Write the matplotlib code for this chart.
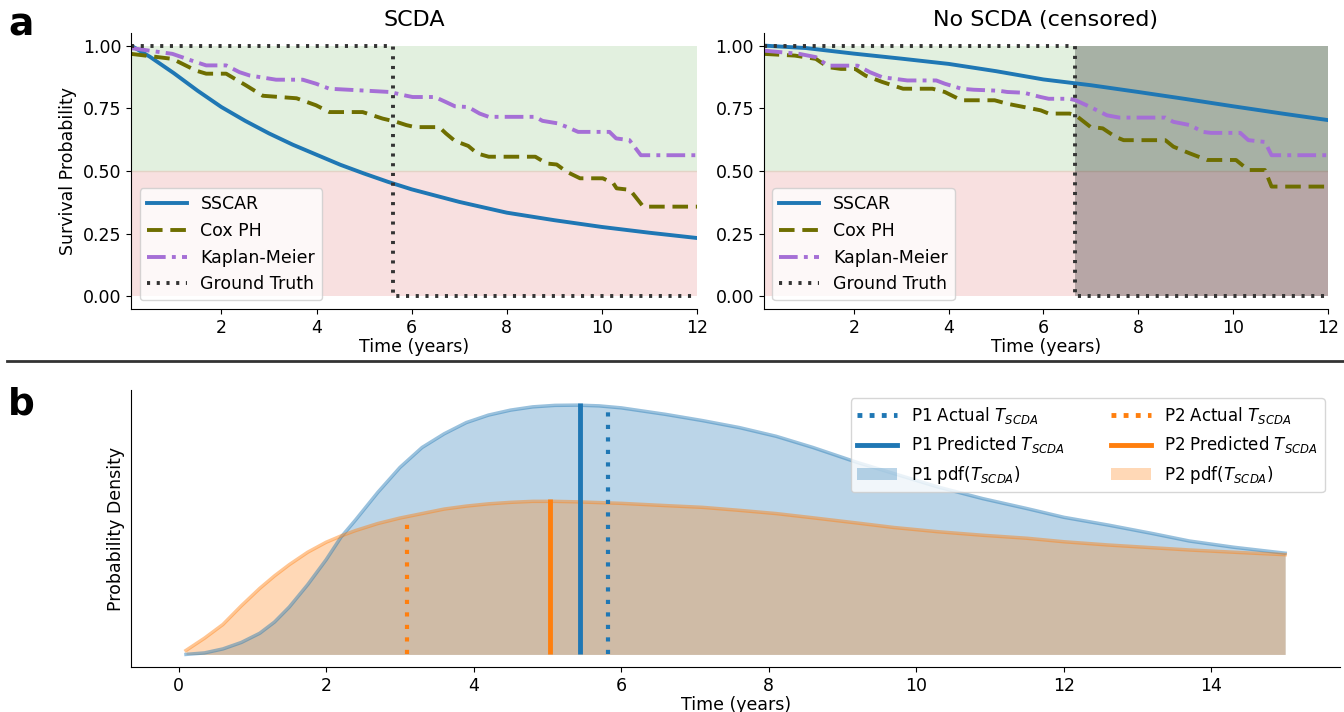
import numpy as np
import matplotlib
matplotlib.use('Agg')
import matplotlib.pyplot as plt
from matplotlib.lines import Line2D
from matplotlib.patches import Patch

# ---- panel a: survival curves ----
t_end = 12.0
t_start = 0.1
gt_event_scda = 5.6
gt_censor = 6.66

sscar_t_a = [0.1, 0.5, 1.0, 1.5, 2.0, 2.5, 3.0, 3.5, 4.0, 4.5, 5.0, 5.5, 6.0, 7.0, 8.0, 9.0, 10.0, 11.0, 12.0]
sscar_s_a = [1.0, 0.955, 0.89, 0.82, 0.755, 0.70, 0.65, 0.605, 0.565, 0.525, 0.49, 0.457, 0.427, 0.377, 0.334, 0.304, 0.277, 0.254, 0.233]

cox_t_a = [0.1, 0.97, 1.47, 1.68, 2.1, 2.52, 2.87, 3.58, 3.99, 4.27, 4.97, 5.39, 5.68, 5.89, 6.07, 6.58, 6.72, 6.91,
           7.19, 7.38, 7.62, 8.60, 8.84, 9.05, 9.26, 9.54, 10.02, 10.24, 10.31, 10.59, 10.87, 12.0]
cox_s_a = [0.967, 0.947, 0.90, 0.888, 0.888, 0.841, 0.80, 0.79, 0.762, 0.735, 0.735, 0.709, 0.696, 0.683, 0.675, 0.675,
           0.65, 0.62, 0.60, 0.57, 0.557, 0.557, 0.53, 0.526, 0.497, 0.471, 0.471, 0.451, 0.431, 0.425, 0.358, 0.358]

km_t_a = [0.1, 0.97, 1.47, 1.68, 2.1, 2.38, 2.59, 3.15, 3.71, 3.99, 4.27, 4.97, 5.54, 5.89, 6.02, 6.49, 6.72, 6.91,
          7.19, 7.43, 7.62, 8.60, 8.75, 9.07, 9.26, 9.50, 10.16, 10.30, 10.58, 10.82, 12.0]
km_s_a = [0.99, 0.967, 0.934, 0.921, 0.921, 0.894, 0.881, 0.864, 0.864, 0.848, 0.828, 0.821, 0.815, 0.80, 0.795, 0.795,
          0.775, 0.758, 0.755, 0.729, 0.716, 0.716, 0.70, 0.69, 0.676, 0.656, 0.656, 0.63, 0.623, 0.563, 0.563]

sscar_t_b = [0.1, 1.0, 2.0, 3.0, 4.0, 5.0, 6.0, 7.0, 8.0, 9.0, 10.0, 11.0, 12.0]
sscar_s_b = [1.0, 0.99, 0.968, 0.948, 0.927, 0.898, 0.865, 0.842, 0.815, 0.787, 0.758, 0.73, 0.703]

cox_t_b = [0.1, 0.76, 1.20, 1.46, 1.73, 2.03, 2.25, 2.60, 3.04, 3.66, 3.92, 4.27, 4.97, 5.24, 5.59, 5.94, 6.11, 6.55,
           6.68, 6.99, 7.25, 7.52, 7.69, 8.57, 8.74, 9.09, 9.45, 10.06, 10.32, 10.67, 10.81, 12.0]
cox_s_b = [0.967, 0.96, 0.947, 0.914, 0.907, 0.907, 0.88, 0.855, 0.828, 0.828, 0.815, 0.782, 0.782, 0.768, 0.755, 0.742,
           0.729, 0.729, 0.722, 0.676, 0.67, 0.636, 0.623, 0.623, 0.597, 0.57, 0.544, 0.544, 0.504, 0.504, 0.438, 0.438]

km_t_b = [0.1, 0.85, 1.20, 1.46, 2.08, 2.34, 2.60, 3.13, 3.74, 3.92, 4.27, 4.53, 5.06, 5.24, 5.59, 5.94, 6.11, 6.55,
          6.68, 6.99, 7.34, 7.60, 8.57, 8.74, 9.09, 9.36, 9.53, 10.15, 10.32, 10.67, 10.81, 12.0]
km_s_b = [0.98, 0.967, 0.954, 0.92, 0.92, 0.894, 0.874, 0.861, 0.861, 0.848, 0.828, 0.824, 0.82, 0.815, 0.812, 0.795,
          0.788, 0.788, 0.782, 0.755, 0.722, 0.713, 0.713, 0.696, 0.683, 0.656, 0.652, 0.652, 0.623, 0.616, 0.563, 0.563]

# ---- panel b: predicted pdfs ----
pdf_t = [0.1, 0.35, 0.6, 0.85, 1.1, 1.3, 1.5, 1.75, 2.0, 2.2, 2.4, 2.7, 3.0, 3.3, 3.6, 3.9, 4.2, 4.5, 4.8, 5.1, 5.4,
         5.7, 6.0, 6.6, 7.1, 7.6, 8.1, 8.6, 9.2, 9.7, 10.3, 10.9, 11.5, 12.0, 12.6, 13.2, 13.7, 14.3, 15.0]
pdf_p1 = [0.0, 0.006, 0.022, 0.048, 0.085, 0.13, 0.19, 0.28, 0.38, 0.47, 0.54, 0.65, 0.75, 0.83, 0.885, 0.93, 0.96,
          0.98, 0.993, 0.999, 1.0, 0.997, 0.989, 0.963, 0.938, 0.91, 0.875, 0.83, 0.77, 0.725, 0.671, 0.625, 0.585,
          0.55, 0.519, 0.485, 0.455, 0.43, 0.406]
pdf_p2 = [0.016, 0.065, 0.12, 0.195, 0.265, 0.315, 0.36, 0.41, 0.45, 0.475, 0.497, 0.525, 0.547, 0.565, 0.583, 0.595,
          0.604, 0.61, 0.614, 0.614, 0.612, 0.609, 0.606, 0.597, 0.59, 0.578, 0.565, 0.548, 0.527, 0.509, 0.492,
          0.478, 0.466, 0.452, 0.439, 0.428, 0.419, 0.41, 0.40]

p1_actual, p1_actual_h = 5.82, 0.98
p1_pred, p1_pred_h = 5.44, 1.01
p2_actual, p2_actual_h = 3.10, 0.545
p2_pred, p2_pred_h = 5.04, 0.625

c_sscar = '#1f77b4'
c_cox = '#6e6e00'
c_km = '#a56fd6'
c_gt = '#333333'
c1 = '#1f77b4'
c2 = '#ff7f0e'

plt.rcParams['font.family'] = 'DejaVu Sans'

fig = plt.figure(figsize=(13.44, 7.12), dpi=100)
ax1 = fig.add_axes([0.0975, 0.566, 0.4211, 0.3876])
ax2 = fig.add_axes([0.5682, 0.566, 0.4199, 0.3876])
ax3 = fig.add_axes([0.0975, 0.0632, 0.8996, 0.389])


def survival_panel(ax, title, s_t, s_s, c_t, c_s, k_t, k_s, gt_time, censored):
    ax.fill_between([t_start, t_end], 0.5, 1.0, color='#e2f0df', lw=0)
    ax.fill_between([t_start, t_end], 0.0, 0.5, color='#f8e0e0', lw=0)
    ax.axhline(0.5, color='#e3d3c6', lw=1, zorder=1)
    if censored:
        ax.fill_between([gt_time, t_end], 0.0, 1.0, color='black', alpha=0.26, lw=0)
    ax.plot(s_t, s_s, color=c_sscar, lw=2.8, label='SSCAR')
    ax.plot(c_t, c_s, color=c_cox, lw=2.8, ls=(0, (4, 2)), label='Cox PH')
    ax.plot(k_t, k_s, color=c_km, lw=2.8, ls=(0, (4.8, 1.6, 1, 1.6)), label='Kaplan-Meier')
    ax.plot([t_start, gt_time, gt_time, t_end], [1, 1, 0, 0], color=c_gt, lw=2.8,
            ls=(0, (0.8, 1.7)), label='Ground Truth')
    ax.set_xlim(t_start, t_end)
    ax.set_ylim(-0.05, 1.05)
    ax.set_xticks([2, 4, 6, 8, 10, 12])
    ax.set_yticks([0, 0.25, 0.5, 0.75, 1.0])
    ax.set_yticklabels(['0.00', '0.25', '0.50', '0.75', '1.00'])
    ax.tick_params(labelsize=12.5)
    ax.set_xlabel('Time (years)', fontsize=12.5, labelpad=1)
    ax.set_title(title, fontsize=16, pad=5)
    ax.spines['top'].set_visible(False)
    ax.spines['right'].set_visible(False)
    ax.legend(loc='lower left', fontsize=12.5, handlelength=2.3)


survival_panel(ax1, 'SCDA', sscar_t_a, sscar_s_a, cox_t_a, cox_s_a, km_t_a, km_s_a, gt_event_scda, False)
survival_panel(ax2, 'No SCDA (censored)', sscar_t_b, sscar_s_b, cox_t_b, cox_s_b, km_t_b, km_s_b, gt_censor, True)
ax1.set_ylabel('Survival Probability', fontsize=12.5)

# panel b
ax3.fill_between(pdf_t, pdf_p1, color=c1, alpha=0.3, lw=0)
ax3.plot(pdf_t, pdf_p1, color=c1, alpha=0.45, lw=2.5)
ax3.fill_between(pdf_t, pdf_p2, color=c2, alpha=0.3, lw=0)
ax3.plot(pdf_t, pdf_p2, color=c2, alpha=0.45, lw=2.5)
ax3.vlines(p1_actual, 0, p1_actual_h, color=c1, lw=3, linestyles=(0, (1, 2)))
ax3.vlines(p1_pred, 0, p1_pred_h, color=c1, lw=3.5)
ax3.vlines(p2_actual, 0, p2_actual_h, color=c2, lw=3, linestyles=(0, (1, 2)))
ax3.vlines(p2_pred, 0, p2_pred_h, color=c2, lw=3.5)

handles = [Line2D([], [], color=c1, lw=3.5, ls=(0, (1, 1.5))),
           Line2D([], [], color=c1, lw=3.5),
           Patch(facecolor=c1, alpha=0.3, lw=0),
           Line2D([], [], color=c2, lw=3.5, ls=(0, (1, 1.5))),
           Line2D([], [], color=c2, lw=3.5),
           Patch(facecolor=c2, alpha=0.3, lw=0)]
labels = ['P1 Actual $T_{SCDA}$', 'P1 Predicted $T_{SCDA}$', 'P1 pdf($T_{SCDA}$)',
          'P2 Actual $T_{SCDA}$', 'P2 Predicted $T_{SCDA}$', 'P2 pdf($T_{SCDA}$)']
ax3.legend(handles, labels, ncol=2, loc='upper right', bbox_to_anchor=(0.994, 1.0),
           fontsize=12, handlelength=2.4, columnspacing=2.8)
ax3.set_yticks([])
ax3.set_xticks([0, 2, 4, 6, 8, 10, 12, 14])
ax3.tick_params(labelsize=12.5)
ax3.set_xlabel('Time (years)', fontsize=12.5, labelpad=1)
ax3.set_ylabel('Probability Density', fontsize=12.5)
ax3.spines['top'].set_visible(False)
ax3.spines['right'].set_visible(False)

fig.text(0.006, 1 - 35 / 712, 'a', fontsize=27, fontweight='bold', va='baseline')
fig.text(0.006, 1 - 415 / 712, 'b', fontsize=27, fontweight='bold', va='baseline')
fig.add_artist(Line2D([0.005, 1.0], [1 - 361 / 712] * 2, transform=fig.transFigure, color='#333333', lw=2))

fig.savefig('out.png', dpi=100)
